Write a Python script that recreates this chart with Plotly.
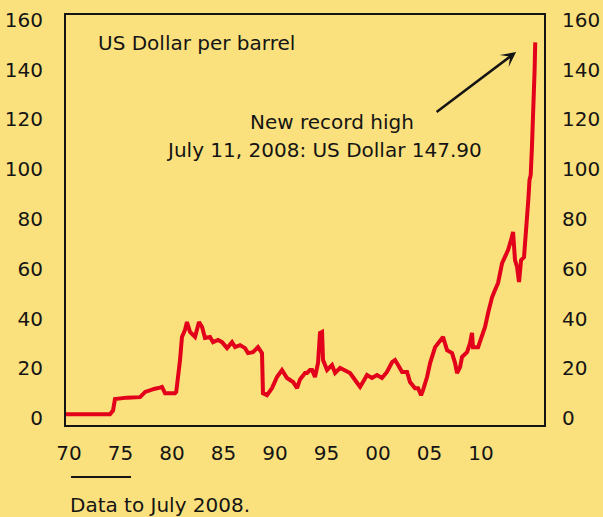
import plotly.graph_objects as go

# Oil price, US Dollar per barrel
years = [1970.0, 1973.61, 1973.86, 1974.02, 1975.0, 1976.08, 1976.5, 1976.9, 1977.3, 1977.72,
         1977.88, 1978.13, 1978.95, 1979.05, 1979.2, 1979.36, 1979.52, 1979.77, 1979.93, 1980.18,
         1980.59, 1980.92, 1981.17, 1981.41, 1981.82, 1982.07, 1982.48, 1982.81, 1983.22, 1983.63,
         1983.88, 1984.29, 1984.70, 1984.94, 1985.35, 1985.76, 1986.09, 1986.17, 1986.50, 1986.91,
         1987.32, 1987.73, 1988.14, 1988.64, 1988.97, 1989.21, 1989.62, 1989.79, 1990.03, 1990.2,
         1990.44, 1990.69, 1990.85, 1991.02, 1991.10, 1991.43, 1991.84, 1992.09, 1992.50, 1992.91,
         1993.32, 1993.73, 1994.14, 1994.38, 1994.71, 1995.12, 1995.53, 1995.94, 1996.35, 1996.77,
         1997.01, 1997.26, 1997.59, 1998.00, 1998.24, 1998.65, 1998.90, 1999.15, 1999.31, 1999.64,
         1999.89, 2000.30, 2000.71, 2000.95, 2001.28, 2001.69, 2001.94, 2002.10, 2002.35, 2002.51,
         2002.92, 2003.17, 2003.33, 2003.41, 2003.83, 2004.15, 2004.40, 2004.65, 2004.98, 2005.22,
         2005.47, 2005.80, 2006.04, 2006.29, 2006.54, 2006.70, 2006.86, 2007.03, 2007.19, 2007.36,
         2007.60, 2007.77, 2007.85, 2007.95, 2008.05, 2008.15, 2008.25, 2008.32, 2008.40, 2008.47,
         2008.52]
prices = [1.5, 1.5, 3.0, 7.6, 8.2, 8.4, 10.5, 11.2, 11.8, 12.2,
          12.5, 10.0, 10.0, 10.5, 16.0, 23.3, 32.6, 35.4, 38.6, 34.6,
          32.6, 38.6, 36.6, 32.2, 32.6, 30.5, 31.4, 30.5, 28.1, 30.5,
          28.5, 29.3, 28.1, 26.1, 26.5, 28.5, 26.1, 10.0, 9.2, 12.0,
          16.5, 19.3, 16.1, 14.5, 12.0, 15.5, 18.1, 18.1, 19.3, 19.3,
          16.5, 22.1, 34.2, 34.6, 23.3, 19.3, 21.3, 18.1, 20.1, 19.3,
          18.1, 15.3, 12.5, 14.5, 17.3, 16.1, 17.3, 16.1, 18.5, 22.5,
          23.3, 21.3, 18.5, 18.5, 14.5, 12.0, 12.0, 9.2, 11.2, 16.5,
          22.1, 28.5, 31.4, 32.6, 27.3, 26.1, 22.1, 18.1, 20.5, 24.5,
          26.5, 30.1, 34.2, 28.5, 28.5, 32.6, 36.6, 42.2, 48.6, 51.5,
          54.3, 62.3, 64.7, 67.5, 71.6, 74.8, 63.5, 60.7, 54.7, 63.5,
          64.7, 74.4, 82.4, 87.6, 95.7, 97.7, 108.9, 117.0, 125.0, 140.0,
          151.0]

y_ticks = [0, 20, 40, 60, 80, 100, 120, 140, 160]
x_tick_years = [1970, 1975, 1980, 1985, 1990, 1995, 2000, 2005, 2010]
x_tick_labels = ["70", "75", "80", "85", "90", "95", "00", "05", "10"]

title_text = "US Dollar per barrel"
note_line1 = "New record high"
note_line2 = "July 11, 2008: US Dollar 147.90"
footnote = "Data to July 2008."
arrow_head = (2006.95, 147.1)
arrow_tail = (2000.30, 122.6)

BG = "#FBE17D"
RED = "#E2001A"
INK = "#141414"
FONT = "DejaVu Sans"

fig = go.Figure()
fig.add_trace(go.Scatter(x=years, y=prices, mode="lines",
                         line=dict(color=RED, width=4), showlegend=False,
                         hoverinfo="skip"))
fig.add_trace(go.Scatter(x=[None], y=[None], xaxis="x2", yaxis="y2",
                         showlegend=False, hoverinfo="skip"))

yr = [-2.8, 162]
fig.update_layout(
    width=603, height=517, autosize=False,
    margin=dict(l=66, r=59, t=15, b=92, pad=0, autoexpand=False),
    paper_bgcolor=BG, plot_bgcolor=BG,
    font=dict(family=FONT, size=20, color=INK),
    xaxis=dict(range=[1970, 2009.24], showticklabels=False, showgrid=False,
               zeroline=False, showline=True, mirror=True, linecolor=INK,
               linewidth=2, ticks="", automargin=False),
    yaxis=dict(range=yr, tickvals=y_ticks, showgrid=False, zeroline=False,
               showline=True, mirror=True, linecolor=INK, linewidth=2,
               ticks="", ticklabelstandoff=17, automargin=False,
               tickfont=dict(family=FONT, size=20, color=INK)),
    xaxis2=dict(overlaying="x", anchor="y2", side="bottom",
                range=[1969.71, 2016.12], tickvals=x_tick_years,
                ticktext=x_tick_labels, showgrid=False, zeroline=False,
                showline=False, ticks="", ticklabelstandoff=14, automargin=False,
                tickfont=dict(family=FONT, size=20, color=INK)),
    yaxis2=dict(overlaying="y", side="right", anchor="x2", range=yr,
                tickvals=y_ticks, showgrid=False, zeroline=False,
                showline=False, ticks="", ticklabelstandoff=17, automargin=False,
                tickfont=dict(family=FONT, size=20, color=INK)),
)

fig.add_annotation(text=title_text, xref="paper", yref="paper",
                   x=0.0628, y=0.932, xanchor="left", yanchor="middle",
                   showarrow=False, font=dict(family=FONT, size=20, color=INK))
fig.add_annotation(text=note_line1, xref="paper", yref="paper",
                   x=0.5565, y=0.739, xanchor="center", yanchor="middle",
                   showarrow=False, font=dict(family=FONT, size=20, color=INK))
fig.add_annotation(text=note_line2, xref="paper", yref="paper",
                   x=0.5397, y=0.6707, xanchor="center", yanchor="middle",
                   showarrow=False, font=dict(family=FONT, size=20, color=INK))
fig.add_annotation(text="", x=arrow_head[0], y=arrow_head[1], xref="x", yref="y",
                   ax=arrow_tail[0], ay=arrow_tail[1], axref="x", ayref="y",
                   showarrow=True, arrowhead=3, arrowsize=1.0, arrowwidth=2.5,
                   arrowcolor=INK)
fig.add_annotation(text=footnote, xref="paper", yref="paper",
                   x=0.004, y=-0.195, xanchor="left", yanchor="middle",
                   showarrow=False, font=dict(family=FONT, size=20, color=INK))
fig.add_shape(type="line", xref="paper", yref="paper",
              x0=0.0105, x1=0.136, y0=-0.127, y1=-0.127,
              line=dict(color=INK, width=2))

page_css = ("document.body.style.margin='0';document.body.style.padding='0';"
            "document.body.style.overflow='hidden';"
            "document.body.style.background='" + BG + "';")
fig.write_html("out.html", post_script=page_css,
               config={"displayModeBar": False, "responsive": False})
